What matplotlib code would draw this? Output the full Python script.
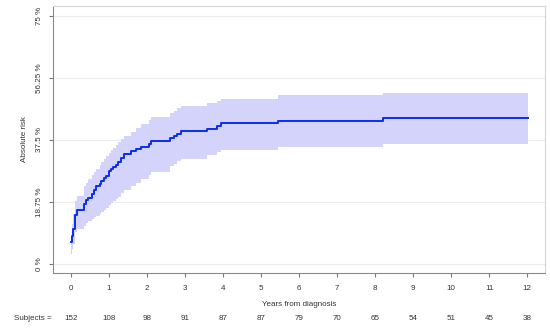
import matplotlib
matplotlib.use("Agg")
import matplotlib.pyplot as plt
import matplotlib.transforms as mtransforms

# Cumulative incidence step curve (event times in years, risk in %)
times = [0.00, 0.03, 0.06, 0.10, 0.12, 0.16, 0.34, 0.40, 0.45, 0.55, 0.60, 0.66,
         0.76, 0.80, 0.88, 0.92, 1.00, 1.05, 1.12, 1.20, 1.25, 1.33, 1.40, 1.58,
         1.70, 1.85, 2.05, 2.12, 2.62, 2.70, 2.80, 2.90, 3.57, 3.85, 3.95, 5.45,
         8.22]
risk = [6.5, 8.5, 10.5, 12.5, 14.9, 16.3, 18.2, 19.3, 20.0, 21.2, 22.2, 23.4,
        24.2, 25.0, 26.0, 26.7, 28.0, 28.6, 29.2, 30.0, 30.8, 32.0, 33.3, 34.1,
        34.8, 35.4, 36.3, 37.2, 38.0, 38.6, 39.4, 40.2, 40.9, 41.7, 42.5, 43.2,
        44.0]
lower = [2.9, 4.5, 6.0, 8.0, 9.5, 10.5, 11.5, 12.2, 12.8, 13.5, 14.0, 14.5,
         15.2, 15.7, 16.4, 17.0, 17.8, 18.3, 18.9, 19.6, 20.3, 21.3, 22.3, 23.5,
         24.5, 25.6, 27.0, 27.8, 29.5, 30.3, 31.0, 31.8, 33.0, 33.7, 34.4, 35.3,
         36.3]
upper = [8.5, 12.0, 15.0, 17.5, 19.1, 20.5, 23.5, 24.5, 25.5, 27.0, 27.8, 28.8,
         30.0, 30.8, 31.8, 32.5, 33.6, 34.3, 35.0, 36.0, 36.8, 37.8, 38.8, 40.0,
         41.0, 42.2, 43.5, 44.3, 45.5, 46.3, 47.0, 47.8, 48.5, 49.3, 50.0, 51.0,
         51.8]
end_time = 12.03

year_ticks = list(range(0, 13))
subjects = [152, 108, 98, 91, 87, 87, 79, 70, 65, 54, 51, 45, 38]
risk_ticks = [0, 18.75, 37.5, 56.25, 75]
risk_labels = ["0 %", "18.75 %", "37.5 %", "56.25 %", "75 %"]

plt.rcParams["font.family"] = ["Liberation Sans", "DejaVu Sans"]
text_color = "#333333"
fs = 5.8

fig = plt.figure(figsize=(5.5, 3.36), dpi=100)
ax = fig.add_axes([53 / 550, 1 - 273 / 336, (545 - 53) / 550, (273 - 6) / 336])

t = times + [end_time]
ax.fill_between(t, lower + [lower[-1]], upper + [upper[-1]], step="post",
                color="#d3d3fb", linewidth=0, zorder=2)
ax.step(t, risk + [risk[-1]], where="post", color="#0a2ef0", linewidth=1.4, zorder=3)

ax.set_xlim(-0.47, 12.47)
ax.set_ylim(-2.8, 78.0)
ax.set_xticks(year_ticks)
ax.set_xticklabels([str(v) for v in year_ticks])
ax.set_yticks(risk_ticks)
ax.set_yticklabels(risk_labels, rotation=90, va="center")
ax.tick_params(axis="both", labelsize=fs, colors="#777777", labelcolor=text_color,
               length=3, width=0.8)
ax.tick_params(axis="x", pad=6)
ax.tick_params(axis="y", pad=4)

for y in risk_ticks:
    ax.axhline(y, color="#ececec", linewidth=0.8, zorder=1)

for side in ("left", "bottom"):
    ax.spines[side].set_color("#8a8a8a")
    ax.spines[side].set_linewidth(0.8)
for side in ("top", "right"):
    ax.spines[side].set_color("#d6d6d6")
    ax.spines[side].set_linewidth(0.8)

ax.set_ylabel("Absolute risk", fontsize=fs, color=text_color, labelpad=6)
fig.text(299 / 550, 1 - 304 / 336, "Years from diagnosis", fontsize=fs,
         color=text_color, ha="center", va="center")

trans = mtransforms.blended_transform_factory(ax.transData, fig.transFigure)
fig.text(33 / 550, 1 - 319 / 336, "Subjects =", fontsize=fs, color=text_color,
         ha="center", va="center")
for x, n in zip(year_ticks, subjects):
    ax.text(x, 1 - 319 / 336, str(n), transform=trans, fontsize=fs,
            color=text_color, ha="center", va="center", clip_on=False)

fig.savefig("out.png", dpi=100)
